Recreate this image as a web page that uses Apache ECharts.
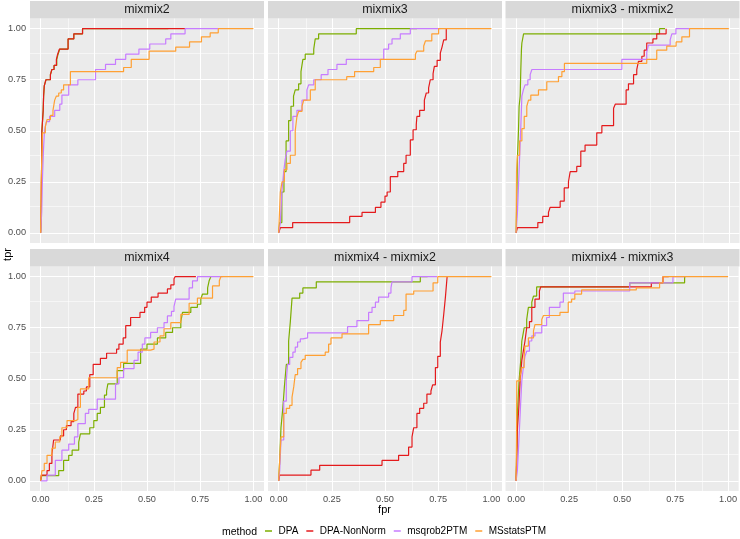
<!DOCTYPE html>
<html><head><meta charset="utf-8">
<script src="https://cdn.jsdelivr.net/npm/echarts@6/dist/echarts.min.js"></script>
<style>html,body{margin:0;padding:0;background:#fff}#c{width:740px;height:539px}</style>
</head><body><div id="c"></div><script>
// ---- data ----
const panels = ['mixmix2', 'mixmix3', 'mixmix3 - mixmix2', 'mixmix4', 'mixmix4 - mixmix2', 'mixmix4 - mixmix3'];
const methods = ['DPA', 'DPA-NonNorm', 'msqrob2PTM', 'MSstatsPTM'];
const majorTicks = [0, 0.25, 0.5, 0.75, 1];
const minorTicks = [0.125, 0.375, 0.625, 0.875];

// mixmix2
const mixmix2_DPA = [[0,0],[0.003,0.15],[0.006,0.5],[0.012,0.6],[0.014,0.67],[0.017,0.72],[0.025,0.75],[0.046,0.775],[0.053,0.8],[0.063,0.82],[0.076,0.85],[0.082,0.875],[0.09,0.9],[0.129,0.95],[0.156,0.975],[0.197,1],[0.6,1]];
const mixmix2_NonNorm = [[0,0],[0.003,0.15],[0.006,0.5],[0.012,0.6],[0.014,0.67],[0.017,0.72],[0.025,0.75],[0.046,0.775],[0.053,0.8],[0.063,0.82],[0.074,0.85],[0.08,0.875],[0.088,0.9],[0.129,0.95],[0.156,0.975],[0.197,1],[0.68,1]];
const mixmix2_msqrob = [[0,0],[0.005,0.1],[0.008,0.25],[0.013,0.4],[0.018,0.5],[0.027,0.545],[0.042,0.57],[0.066,0.6],[0.09,0.63],[0.1,0.675],[0.132,0.725],[0.175,0.75],[0.258,0.8],[0.305,0.825],[0.352,0.85],[0.4,0.875],[0.462,0.9],[0.513,0.925],[0.588,0.95],[0.612,0.975],[0.679,1],[0.835,1]];
const mixmix2_MSstats = [[0,0],[0.002,0.23],[0.005,0.35],[0.009,0.49],[0.022,0.52],[0.03,0.555],[0.046,0.575],[0.058,0.6],[0.066,0.65],[0.074,0.67],[0.085,0.685],[0.097,0.7],[0.108,0.725],[0.14,0.79],[0.39,0.81],[0.426,0.85],[0.51,0.89],[0.635,0.91],[0.7,0.935],[0.756,0.96],[0.797,0.98],[0.835,1],[1,1]];

// mixmix3
const mixmix3_DPA = [[0,0],[0.005,0.05],[0.015,0.2],[0.025,0.3],[0.035,0.45],[0.047,0.55],[0.058,0.62],[0.07,0.67],[0.078,0.7],[0.094,0.73],[0.105,0.79],[0.114,0.85],[0.125,0.875],[0.165,0.9],[0.172,0.95],[0.188,0.975],[0.365,1],[0.65,1]];
const mixmix3_NonNorm = [[0,0],[0.008,0.025],[0.066,0.05],[0.334,0.08],[0.392,0.1],[0.455,0.125],[0.481,0.15],[0.5,0.18],[0.51,0.2],[0.525,0.275],[0.56,0.3],[0.588,0.34],[0.599,0.38],[0.619,0.455],[0.632,0.505],[0.647,0.53],[0.65,0.57],[0.663,0.6],[0.685,0.65],[0.694,0.685],[0.705,0.71],[0.713,0.75],[0.726,0.78],[0.732,0.815],[0.745,0.845],[0.76,0.88],[0.768,0.91],[0.776,0.945],[0.788,1]];
const mixmix3_msqrob = [[0,0],[0.008,0.05],[0.015,0.2],[0.024,0.3],[0.031,0.36],[0.039,0.4],[0.055,0.5],[0.067,0.57],[0.086,0.6],[0.11,0.65],[0.133,0.7],[0.141,0.725],[0.165,0.75],[0.2,0.775],[0.232,0.8],[0.274,0.825],[0.318,0.85],[0.494,0.9],[0.517,0.925],[0.533,0.95],[0.572,0.975],[0.619,1],[0.76,1]];
const mixmix3_MSstats = [[0,0],[0.008,0.2],[0.016,0.25],[0.027,0.31],[0.039,0.34],[0.055,0.38],[0.078,0.5],[0.086,0.57],[0.094,0.595],[0.11,0.62],[0.118,0.65],[0.149,0.7],[0.172,0.75],[0.32,0.765],[0.357,0.79],[0.447,0.81],[0.478,0.85],[0.643,0.875],[0.65,0.89],[0.682,0.915],[0.69,0.94],[0.72,0.975],[0.752,1],[1,1]];

// mixmix3 - mixmix2
const m3m2_DPA = [[0,0],[0.003,0.15],[0.006,0.36],[0.011,0.5],[0.014,0.62],[0.019,0.67],[0.022,0.8],[0.025,0.9],[0.027,0.93],[0.035,0.975],[0.674,1],[0.7,1]];
const m3m2_NonNorm = [[0,0],[0.006,0.025],[0.102,0.05],[0.125,0.08],[0.152,0.1],[0.16,0.125],[0.207,0.155],[0.226,0.22],[0.246,0.25],[0.254,0.3],[0.285,0.325],[0.304,0.4],[0.324,0.43],[0.379,0.49],[0.403,0.525],[0.458,0.61],[0.466,0.63],[0.517,0.7],[0.528,0.73],[0.552,0.775],[0.567,0.8],[0.575,0.84],[0.591,0.865],[0.602,0.895],[0.614,0.93],[0.643,0.95],[0.661,0.975],[0.705,1]];
const m3m2_msqrob = [[0,0],[0.006,0.1],[0.011,0.23],[0.016,0.36],[0.022,0.52],[0.027,0.67],[0.034,0.7],[0.042,0.725],[0.055,0.75],[0.066,0.775],[0.074,0.8],[0.497,0.85],[0.614,0.885],[0.622,0.92],[0.724,0.945],[0.732,0.975],[0.751,1],[0.815,1]];
const m3m2_MSstats = [[0,0],[0.002,0.3],[0.006,0.38],[0.016,0.45],[0.027,0.51],[0.038,0.57],[0.05,0.62],[0.058,0.65],[0.069,0.675],[0.105,0.7],[0.144,0.74],[0.199,0.765],[0.215,0.79],[0.227,0.83],[0.614,0.85],[0.661,0.895],[0.708,0.915],[0.752,0.935],[0.779,0.96],[0.815,1],[1,1]];

// mixmix4
const mixmix4_DPA = [[0,0],[0.005,0.025],[0.085,0.05],[0.108,0.1],[0.132,0.125],[0.148,0.15],[0.179,0.19],[0.187,0.23],[0.231,0.26],[0.25,0.295],[0.266,0.33],[0.281,0.36],[0.3,0.42],[0.31,0.44],[0.316,0.475],[0.36,0.54],[0.39,0.575],[0.47,0.645],[0.5,0.67],[0.549,0.7],[0.588,0.727],[0.62,0.75],[0.659,0.78],[0.667,0.825],[0.706,0.85],[0.737,0.865],[0.753,0.89],[0.761,0.915],[0.785,0.945],[0.792,0.98],[0.8,1]];
const mixmix4_NonNorm = [[0,0],[0.003,0.028],[0.03,0.05],[0.041,0.085],[0.053,0.13],[0.061,0.2],[0.093,0.22],[0.108,0.25],[0.121,0.27],[0.143,0.29],[0.156,0.33],[0.164,0.36],[0.175,0.425],[0.203,0.44],[0.215,0.46],[0.231,0.52],[0.247,0.57],[0.281,0.6],[0.31,0.625],[0.357,0.645],[0.368,0.67],[0.388,0.7],[0.4,0.76],[0.423,0.8],[0.467,0.825],[0.489,0.85],[0.5,0.875],[0.52,0.9],[0.552,0.92],[0.596,0.94],[0.612,0.96],[0.627,0.99],[0.632,1],[0.73,1]];
const mixmix4_msqrob = [[0,0],[0.03,0.028],[0.069,0.1],[0.1,0.15],[0.132,0.18],[0.159,0.215],[0.175,0.28],[0.21,0.33],[0.226,0.35],[0.266,0.4],[0.352,0.475],[0.368,0.505],[0.39,0.55],[0.439,0.59],[0.458,0.63],[0.478,0.67],[0.49,0.7],[0.517,0.727],[0.549,0.75],[0.58,0.775],[0.596,0.808],[0.615,0.83],[0.627,0.855],[0.635,0.89],[0.698,0.945],[0.714,0.98],[0.737,1],[0.855,1]];
const mixmix4_MSstats = [[0,0],[0.006,0.05],[0.017,0.085],[0.03,0.125],[0.053,0.16],[0.069,0.19],[0.09,0.215],[0.1,0.26],[0.124,0.295],[0.165,0.3],[0.175,0.36],[0.187,0.45],[0.226,0.505],[0.36,0.555],[0.376,0.58],[0.407,0.64],[0.517,0.645],[0.533,0.68],[0.561,0.71],[0.58,0.745],[0.612,0.775],[0.659,0.815],[0.698,0.87],[0.737,0.895],[0.808,0.955],[0.84,0.98],[0.847,1],[1,1]];

// mixmix4 - mixmix2
const m4m2_DPA = [[0,0],[0.005,0.1],[0.011,0.26],[0.02,0.36],[0.027,0.46],[0.036,0.57],[0.047,0.685],[0.055,0.78],[0.063,0.895],[0.099,0.92],[0.114,0.945],[0.177,0.975],[0.666,1],[0.7,1]];
const m4m2_NonNorm = [[0,0],[0.005,0.028],[0.152,0.052],[0.193,0.076],[0.486,0.1],[0.564,0.125],[0.611,0.165],[0.627,0.215],[0.635,0.26],[0.65,0.33],[0.663,0.355],[0.682,0.38],[0.697,0.425],[0.716,0.44],[0.724,0.47],[0.737,0.555],[0.748,0.61],[0.76,0.68],[0.768,0.735],[0.776,0.815],[0.784,0.9],[0.792,1]];
const m4m2_msqrob = [[0,0],[0.005,0.05],[0.011,0.2],[0.024,0.39],[0.036,0.49],[0.042,0.57],[0.052,0.605],[0.067,0.63],[0.078,0.655],[0.089,0.68],[0.102,0.695],[0.114,0.7],[0.136,0.725],[0.324,0.755],[0.368,0.785],[0.423,0.825],[0.439,0.85],[0.455,0.875],[0.47,0.9],[0.517,0.92],[0.528,0.945],[0.533,0.975],[0.627,1],[0.745,1]];
const m4m2_MSstats = [[0,0],[0.005,0.1],[0.011,0.215],[0.024,0.33],[0.036,0.355],[0.052,0.37],[0.063,0.41],[0.071,0.46],[0.078,0.52],[0.089,0.55],[0.105,0.58],[0.114,0.595],[0.125,0.615],[0.219,0.63],[0.235,0.67],[0.246,0.7],[0.298,0.72],[0.423,0.765],[0.478,0.785],[0.541,0.81],[0.588,0.835],[0.599,0.915],[0.635,0.93],[0.726,0.97],[0.748,1],[1,1]];

// mixmix4 - mixmix3
const m4m3_DPA = [[0,0],[0.003,0.15],[0.006,0.33],[0.014,0.49],[0.022,0.59],[0.027,0.685],[0.034,0.725],[0.038,0.75],[0.05,0.79],[0.058,0.85],[0.074,0.875],[0.082,0.905],[0.097,0.95],[0.536,0.97],[0.795,1],[0.8,1]];
const m4m3_NonNorm = [[0,0],[0.003,0.1],[0.006,0.25],[0.013,0.36],[0.019,0.49],[0.027,0.59],[0.034,0.635],[0.042,0.685],[0.05,0.75],[0.063,0.78],[0.074,0.85],[0.089,0.89],[0.11,0.93],[0.116,0.95],[0.638,0.97],[0.693,1],[0.72,1]];
const m4m3_msqrob = [[0,0],[0.006,0.05],[0.011,0.15],[0.016,0.26],[0.022,0.39],[0.027,0.49],[0.034,0.555],[0.042,0.61],[0.05,0.635],[0.063,0.685],[0.074,0.71],[0.089,0.725],[0.121,0.76],[0.144,0.8],[0.157,0.85],[0.207,0.875],[0.223,0.92],[0.277,0.93],[0.536,0.97],[0.74,1],[0.8,1]];
const m4m3_MSstats = [[0,0],[0.002,0.2],[0.003,0.49],[0.019,0.515],[0.027,0.555],[0.038,0.61],[0.042,0.66],[0.058,0.7],[0.082,0.735],[0.089,0.765],[0.121,0.79],[0.129,0.81],[0.207,0.825],[0.246,0.875],[0.262,0.89],[0.277,0.915],[0.309,0.935],[0.567,0.945],[0.677,0.97],[0.693,1],[1,1]];

const curves = [
  [mixmix2_DPA, mixmix2_NonNorm, mixmix2_msqrob, mixmix2_MSstats],
  [mixmix3_DPA, mixmix3_NonNorm, mixmix3_msqrob, mixmix3_MSstats],
  [m3m2_DPA, m3m2_NonNorm, m3m2_msqrob, m3m2_MSstats],
  [mixmix4_DPA, mixmix4_NonNorm, mixmix4_msqrob, mixmix4_MSstats],
  [m4m2_DPA, m4m2_NonNorm, m4m2_msqrob, m4m2_MSstats],
  [m4m3_DPA, m4m3_NonNorm, m4m3_msqrob, m4m3_MSstats]
];

// ---- style / layout ----
const colors = ['#7CAE00', '#E41A1C', '#C77CFF', '#FFA033'];
const FONT = 'Liberation Sans, Arial, sans-serif';
const colLeft = [30, 268, 505.5];
const rowTop = [18.5, 266.5];
const panelW = 234, panelH = 224.5, stripH = 17.5;

const grids = [], xAxes = [], yAxes = [], series = [], graphics = [];
const fmt = v => v.toFixed(2);

panels.forEach((name, i) => {
  const r = Math.floor(i / 3), c = i % 3;
  grids.push({ left: colLeft[c], top: rowTop[r], width: panelW, height: panelH,
    show: true, backgroundColor: '#EBEBEB', borderWidth: 0 });
  const bottom = r === 1, leftCol = c === 0;
  xAxes.push({ gridIndex: i, type: 'value', min: -0.05, max: 1.05,
    axisLine: { show: false },
    axisTick: { show: bottom, length: 3, customValues: majorTicks, lineStyle: { color: '#333333', width: 1 } },
    axisLabel: { show: bottom, customValues: majorTicks, formatter: fmt, color: '#4D4D4D', fontSize: 9.2, fontFamily: FONT, margin: 4 },
    splitLine: { show: false } });
  yAxes.push({ gridIndex: i, type: 'value', min: -0.05, max: 1.05,
    axisLine: { show: false },
    axisTick: { show: leftCol, length: 3, customValues: majorTicks, lineStyle: { color: '#333333', width: 1 } },
    axisLabel: { show: leftCol, customValues: majorTicks, formatter: fmt, color: '#4D4D4D', fontSize: 9.2, fontFamily: FONT, margin: 4 },
    splitLine: { show: false } });

  const gridLines = [];
  minorTicks.forEach(v => { gridLines.push({ xAxis: v, lineStyle: { width: 0.55 } }); gridLines.push({ yAxis: v, lineStyle: { width: 0.55 } }); });
  majorTicks.forEach(v => { gridLines.push({ xAxis: v, lineStyle: { width: 1.1 } }); gridLines.push({ yAxis: v, lineStyle: { width: 1.1 } }); });

  curves[i].forEach((data, k) => {
    const s = { type: 'line', name: methods[k], xAxisIndex: i, yAxisIndex: i, data: data,
      step: 'end', showSymbol: false, symbol: 'none', animation: false, silent: true,
      lineStyle: { color: colors[k], width: 1.2 }, itemStyle: { color: colors[k] }, z: 2 + k };
    if (k === 0) {
      s.markLine = { z: 1, silent: true, symbol: ['none', 'none'], animation: false,
        label: { show: false }, lineStyle: { color: '#FFFFFF', type: 'solid' }, data: gridLines };
    }
    series.push(s);
  });

  // strip
  graphics.push({ type: 'rect', shape: { x: colLeft[c], y: rowTop[r] - stripH, width: panelW, height: stripH },
    style: { fill: '#D9D9D9' }, silent: true });
  graphics.push({ type: 'text', x: colLeft[c] + panelW / 2, y: rowTop[r] - stripH / 2,
    style: { text: name, fill: '#1A1A1A', fontSize: 12.4, fontFamily: FONT, align: 'center', verticalAlign: 'middle' }, silent: true });
});

// axis titles and legend title
graphics.push({ type: 'text', x: 8, y: 254.5, rotation: Math.PI / 2,
  style: { text: 'tpr', fill: '#000', fontSize: 11, fontFamily: FONT, align: 'center', verticalAlign: 'middle' } });
graphics.push({ type: 'text', x: 384.5, y: 510, 
  style: { text: 'fpr', fill: '#000', fontSize: 11, fontFamily: FONT, align: 'center', verticalAlign: 'middle' } });
graphics.push({ type: 'text', x: 222, y: 532,
  style: { text: 'method', fill: '#000', fontSize: 10.5, fontFamily: FONT, align: 'left', verticalAlign: 'middle' } });

const chart = echarts.init(document.getElementById('c'), null, { renderer: 'canvas' });
chart.setOption({
  animation: false,
  backgroundColor: '#FFFFFF',
  grid: grids, xAxis: xAxes, yAxis: yAxes, series: series,
  legend: { data: methods.map((m, k) => ({ name: m, icon: 'rect', itemStyle: { color: colors[k] } })),
    left: 265, top: 526, itemWidth: 7, itemHeight: 1.5, itemGap: 8, padding: 0,
    textStyle: { fontSize: 10, fontFamily: FONT, color: '#000', padding: [0, 0, 0, 1.5] }, selectedMode: false },
  graphic: graphics
});
</script></body></html>
